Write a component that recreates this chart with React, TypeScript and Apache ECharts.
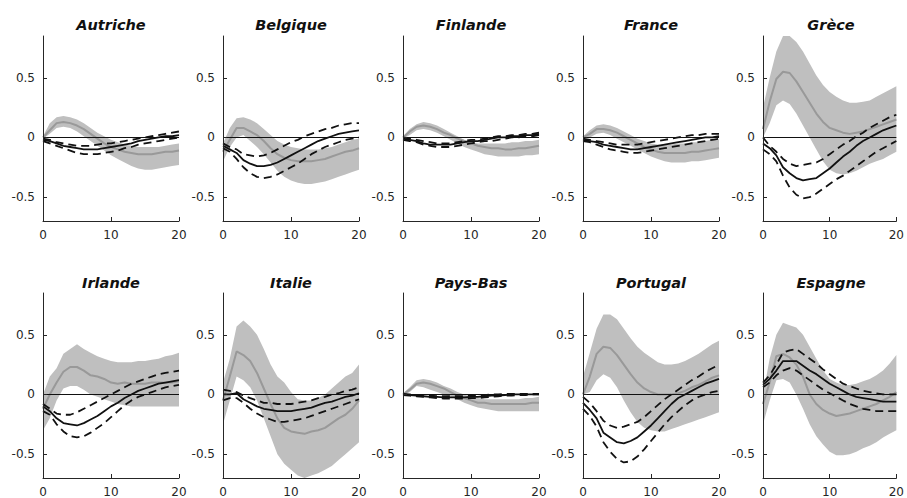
import React, { useEffect, useRef } from "react";
import * as echarts from "echarts";

const countries = ["Autriche", "Belgique", "Finlande", "France", "Grèce", "Irlande", "Italie", "Pays-Bas", "Portugal", "Espagne"];
const horizons = [0, 1, 2, 3, 4, 5, 6, 7, 8, 9, 10, 11, 12, 13, 14, 15, 16, 17, 18, 19, 20];
const yTicks = [-0.5, 0, 0.5];

// Autriche
const autBandUp = [0.01, 0.12, 0.17, 0.18, 0.17, 0.15, 0.12, 0.08, 0.04, 0.01, -0.02, -0.04, -0.06, -0.07, -0.08, -0.08, -0.08, -0.08, -0.07, -0.06, -0.05];
const autBandLo = [-0.01, 0.03, 0.08, 0.09, 0.08, 0.05, 0.01, -0.03, -0.07, -0.11, -0.15, -0.18, -0.21, -0.24, -0.26, -0.27, -0.27, -0.26, -0.25, -0.24, -0.23];
const autMed = [0, 0.06, 0.12, 0.13, 0.12, 0.10, 0.07, 0.03, -0.01, -0.05, -0.08, -0.10, -0.12, -0.13, -0.14, -0.14, -0.14, -0.13, -0.12, -0.12, -0.11];
const autIrf = [-0.02, -0.03, -0.05, -0.07, -0.08, -0.09, -0.10, -0.10, -0.10, -0.09, -0.08, -0.07, -0.06, -0.05, -0.03, -0.02, -0.01, 0.0, 0.01, 0.01, 0.02];
const autIrfUp = [-0.01, -0.02, -0.04, -0.05, -0.06, -0.07, -0.07, -0.07, -0.06, -0.05, -0.05, -0.04, -0.03, -0.02, -0.01, 0.0, 0.01, 0.02, 0.03, 0.04, 0.05];
const autIrfLo = [-0.03, -0.05, -0.07, -0.09, -0.11, -0.13, -0.14, -0.14, -0.14, -0.13, -0.12, -0.11, -0.09, -0.08, -0.06, -0.05, -0.04, -0.03, -0.02, -0.01, 0.0];

// Belgique
const belBandUp = [-0.05, 0.08, 0.16, 0.17, 0.15, 0.12, 0.07, 0.02, -0.03, -0.06, -0.08, -0.09, -0.1, -0.1, -0.1, -0.09, -0.08, -0.06, -0.04, -0.02, -0.01];
const belBandLo = [-0.2, -0.08, 0.0, 0.02, -0.03, -0.08, -0.14, -0.21, -0.28, -0.33, -0.36, -0.38, -0.39, -0.39, -0.38, -0.37, -0.35, -0.33, -0.31, -0.29, -0.27];
const belMed = [-0.12, -0.02, 0.08, 0.08, 0.05, 0.02, -0.03, -0.09, -0.14, -0.17, -0.19, -0.2, -0.2, -0.2, -0.19, -0.18, -0.16, -0.14, -0.12, -0.11, -0.09];
const belIrf = [-0.07, -0.1, -0.13, -0.19, -0.22, -0.24, -0.24, -0.23, -0.21, -0.18, -0.15, -0.12, -0.09, -0.06, -0.03, -0.01, 0.01, 0.03, 0.04, 0.05, 0.06];
const belIrfUp = [-0.05, -0.08, -0.1, -0.14, -0.15, -0.16, -0.15, -0.13, -0.1, -0.07, -0.04, -0.02, 0.01, 0.03, 0.05, 0.07, 0.08, 0.1, 0.11, 0.12, 0.12];
const belIrfLo = [-0.09, -0.12, -0.18, -0.25, -0.3, -0.33, -0.34, -0.33, -0.31, -0.28, -0.25, -0.22, -0.18, -0.14, -0.11, -0.08, -0.06, -0.04, -0.02, -0.01, 0.0];

// Finlande
const finBandUp = [0.01, 0.07, 0.11, 0.13, 0.12, 0.1, 0.07, 0.04, 0.01, -0.02, -0.04, -0.05, -0.05, -0.05, -0.05, -0.05, -0.04, -0.04, -0.03, -0.03, -0.02];
const finBandLo = [-0.01, 0.02, 0.06, 0.07, 0.06, 0.04, 0.01, -0.02, -0.05, -0.08, -0.1, -0.12, -0.14, -0.15, -0.16, -0.16, -0.16, -0.16, -0.15, -0.15, -0.14];
const finMed = [0, 0.05, 0.09, 0.1, 0.09, 0.07, 0.04, 0.02, -0.01, -0.03, -0.05, -0.07, -0.08, -0.09, -0.09, -0.1, -0.1, -0.09, -0.09, -0.08, -0.07];
const finIrf = [-0.01, -0.02, -0.03, -0.05, -0.06, -0.06, -0.06, -0.06, -0.05, -0.04, -0.03, -0.03, -0.02, -0.01, 0.0, 0.0, 0.01, 0.01, 0.02, 0.02, 0.03];
const finIrfUp = [0.0, -0.01, -0.02, -0.03, -0.04, -0.05, -0.05, -0.05, -0.04, -0.03, -0.02, -0.02, -0.01, 0.0, 0.01, 0.01, 0.02, 0.02, 0.03, 0.03, 0.04];
const finIrfLo = [-0.02, -0.03, -0.04, -0.06, -0.07, -0.08, -0.08, -0.08, -0.07, -0.06, -0.05, -0.04, -0.03, -0.03, -0.02, -0.01, 0.0, 0.0, 0.01, 0.01, 0.02];

// France
const fraBandUp = [0.01, 0.06, 0.1, 0.11, 0.1, 0.08, 0.05, 0.02, -0.01, -0.03, -0.05, -0.06, -0.06, -0.06, -0.05, -0.05, -0.04, -0.04, -0.03, -0.02, -0.02];
const fraBandLo = [-0.01, 0.0, 0.03, 0.04, 0.02, -0.01, -0.04, -0.07, -0.1, -0.13, -0.16, -0.18, -0.2, -0.21, -0.21, -0.21, -0.2, -0.2, -0.19, -0.18, -0.17];
const fraMed = [0, 0.03, 0.07, 0.07, 0.06, 0.04, 0.01, -0.02, -0.05, -0.08, -0.1, -0.12, -0.13, -0.13, -0.13, -0.13, -0.12, -0.12, -0.11, -0.1, -0.09];
const fraIrf = [-0.02, -0.03, -0.04, -0.06, -0.07, -0.08, -0.09, -0.1, -0.1, -0.09, -0.08, -0.07, -0.06, -0.05, -0.04, -0.03, -0.02, -0.01, 0.0, 0.0, 0.01];
const fraIrfUp = [-0.01, -0.02, -0.03, -0.04, -0.05, -0.06, -0.06, -0.06, -0.06, -0.05, -0.04, -0.03, -0.02, -0.01, 0.0, 0.01, 0.02, 0.02, 0.03, 0.03, 0.03];
const fraIrfLo = [-0.03, -0.04, -0.06, -0.08, -0.1, -0.11, -0.12, -0.13, -0.13, -0.12, -0.11, -0.1, -0.09, -0.08, -0.07, -0.06, -0.05, -0.04, -0.03, -0.02, -0.01];

// Grèce
const greBandUp = [0.25, 0.5, 0.72, 0.85, 0.85, 0.8, 0.72, 0.62, 0.52, 0.44, 0.38, 0.34, 0.31, 0.29, 0.29, 0.3, 0.31, 0.34, 0.37, 0.4, 0.43];
const greBandLo = [0.0, 0.12, 0.27, 0.31, 0.28, 0.2, 0.1, 0.0, -0.1, -0.2, -0.27, -0.3, -0.31, -0.3, -0.28, -0.25, -0.22, -0.2, -0.18, -0.15, -0.12];
const greMed = [0.07, 0.3, 0.49, 0.55, 0.54, 0.47, 0.38, 0.29, 0.2, 0.13, 0.08, 0.06, 0.04, 0.03, 0.04, 0.05, 0.07, 0.09, 0.11, 0.13, 0.15];
const greIrf = [-0.05, -0.09, -0.15, -0.25, -0.3, -0.34, -0.36, -0.35, -0.34, -0.3, -0.26, -0.21, -0.16, -0.12, -0.07, -0.03, 0.0, 0.03, 0.06, 0.08, 0.1];
const greIrfUp = [0.0, -0.07, -0.12, -0.18, -0.22, -0.24, -0.23, -0.22, -0.21, -0.18, -0.14, -0.1, -0.06, -0.03, 0.01, 0.04, 0.08, 0.11, 0.14, 0.17, 0.19];
const greIrfLo = [-0.1, -0.14, -0.2, -0.32, -0.42, -0.48, -0.51, -0.5, -0.47, -0.43, -0.39, -0.35, -0.32, -0.28, -0.24, -0.2, -0.16, -0.12, -0.09, -0.06, -0.03];

// Irlande
const irlBandUp = [0.0, 0.15, 0.22, 0.34, 0.38, 0.42, 0.38, 0.35, 0.32, 0.3, 0.28, 0.27, 0.27, 0.27, 0.28, 0.28, 0.29, 0.3, 0.32, 0.33, 0.35];
const irlBandLo = [-0.3, -0.2, -0.05, 0.05, 0.07, 0.07, 0.04, 0.0, -0.02, -0.04, -0.06, -0.08, -0.09, -0.1, -0.1, -0.1, -0.1, -0.1, -0.1, -0.1, -0.1];
const irlMed = [-0.12, 0.0, 0.1, 0.19, 0.23, 0.23, 0.2, 0.16, 0.15, 0.13, 0.1, 0.09, 0.1, 0.09, 0.09, 0.09, 0.1, 0.1, 0.1, 0.1, 0.11];
const irlIrf = [-0.1, -0.14, -0.2, -0.24, -0.25, -0.26, -0.24, -0.21, -0.18, -0.14, -0.1, -0.07, -0.03, 0.0, 0.03, 0.05, 0.07, 0.09, 0.1, 0.11, 0.12];
const irlIrfUp = [-0.08, -0.12, -0.16, -0.17, -0.17, -0.15, -0.12, -0.09, -0.06, -0.03, 0.0, 0.03, 0.06, 0.09, 0.11, 0.13, 0.15, 0.17, 0.18, 0.19, 0.2];
const irlIrfLo = [-0.14, -0.17, -0.25, -0.31, -0.35, -0.36, -0.35, -0.32, -0.28, -0.24, -0.19, -0.14, -0.09, -0.05, -0.02, 0.0, 0.02, 0.04, 0.06, 0.07, 0.08];

// Italie
const itaBandUp = [0.1, 0.3, 0.57, 0.62, 0.57, 0.5, 0.38, 0.25, 0.15, 0.1, 0.02, -0.04, -0.05, -0.05, -0.03, 0.0, 0.05, 0.1, 0.15, 0.18, 0.25];
const itaBandLo = [-0.25, -0.05, 0.15, 0.12, 0.06, -0.05, -0.2, -0.35, -0.5, -0.58, -0.63, -0.68, -0.7, -0.68, -0.66, -0.63, -0.6, -0.55, -0.5, -0.45, -0.4];
const itaMed = [-0.05, 0.15, 0.36, 0.33, 0.28, 0.18, 0.05, -0.08, -0.2, -0.28, -0.31, -0.32, -0.33, -0.31, -0.3, -0.28, -0.24, -0.2, -0.17, -0.12, -0.05];
const itaIrf = [0.0, 0.0, 0.01, -0.04, -0.07, -0.1, -0.12, -0.13, -0.14, -0.14, -0.14, -0.13, -0.12, -0.11, -0.09, -0.07, -0.06, -0.04, -0.02, -0.01, 0.01];
const itaIrfUp = [0.04, 0.03, 0.02, -0.01, -0.03, -0.05, -0.07, -0.07, -0.08, -0.08, -0.08, -0.07, -0.06, -0.05, -0.03, -0.02, 0.0, 0.01, 0.03, 0.04, 0.06];
const itaIrfLo = [-0.05, -0.03, -0.03, -0.07, -0.12, -0.16, -0.19, -0.21, -0.23, -0.23, -0.22, -0.21, -0.2, -0.18, -0.16, -0.14, -0.12, -0.1, -0.08, -0.06, -0.04];

// Pays-Bas
const nldBandUp = [0.01, 0.06, 0.12, 0.13, 0.12, 0.1, 0.07, 0.05, 0.02, 0.0, -0.02, -0.03, -0.04, -0.04, -0.04, -0.04, -0.04, -0.04, -0.03, -0.03, -0.02];
const nldBandLo = [-0.01, 0.02, 0.07, 0.06, 0.04, 0.02, 0.0, -0.02, -0.04, -0.07, -0.09, -0.11, -0.12, -0.13, -0.14, -0.14, -0.14, -0.14, -0.14, -0.14, -0.14];
const nldMed = [0, 0.04, 0.09, 0.1, 0.09, 0.07, 0.05, 0.02, -0.01, -0.03, -0.05, -0.07, -0.07, -0.08, -0.08, -0.08, -0.08, -0.08, -0.08, -0.07, -0.07];
const nldIrf = [0, -0.005, -0.01, -0.015, -0.02, -0.02, -0.025, -0.025, -0.025, -0.025, -0.02, -0.02, -0.015, -0.01, -0.01, -0.005, 0, 0, 0, 0, 0];
const nldIrfUp = [0.005, 0, -0.005, -0.01, -0.01, -0.015, -0.015, -0.015, -0.015, -0.015, -0.01, -0.01, -0.005, 0, 0, 0.005, 0.005, 0.005, 0.005, 0.005, 0.005];
const nldIrfLo = [-0.005, -0.01, -0.015, -0.02, -0.025, -0.03, -0.035, -0.035, -0.035, -0.035, -0.03, -0.03, -0.025, -0.02, -0.015, -0.01, -0.01, -0.005, -0.005, 0, 0];

// Portugal
const porBandUp = [0.15, 0.35, 0.55, 0.67, 0.67, 0.63, 0.55, 0.47, 0.4, 0.35, 0.31, 0.27, 0.25, 0.25, 0.26, 0.28, 0.31, 0.34, 0.38, 0.42, 0.45];
const porBandLo = [0.0, 0.02, 0.12, 0.17, 0.14, 0.06, -0.05, -0.15, -0.23, -0.28, -0.3, -0.31, -0.31, -0.29, -0.27, -0.25, -0.23, -0.21, -0.19, -0.17, -0.15];
const porMed = [0.0, 0.15, 0.34, 0.4, 0.39, 0.33, 0.25, 0.17, 0.1, 0.05, 0.02, 0.0, 0.0, 0.0, 0.01, 0.03, 0.06, 0.08, 0.11, 0.14, 0.16];
const porIrf = [-0.07, -0.13, -0.2, -0.32, -0.36, -0.4, -0.41, -0.39, -0.36, -0.31, -0.26, -0.2, -0.14, -0.08, -0.03, 0.0, 0.03, 0.06, 0.09, 0.11, 0.13];
const porIrfUp = [-0.02, -0.07, -0.14, -0.22, -0.26, -0.28, -0.27, -0.25, -0.23, -0.19, -0.14, -0.09, -0.04, 0.0, 0.04, 0.08, 0.12, 0.15, 0.19, 0.22, 0.25];
const porIrfLo = [-0.12, -0.18, -0.27, -0.4, -0.48, -0.54, -0.57, -0.56, -0.52, -0.46, -0.39, -0.32, -0.25, -0.19, -0.14, -0.09, -0.05, -0.02, 0.0, 0.02, 0.03];

// Espagne
const espBandUp = [0.0, 0.3, 0.5, 0.6, 0.58, 0.56, 0.5, 0.4, 0.3, 0.2, 0.13, 0.1, 0.08, 0.08, 0.09, 0.11, 0.13, 0.16, 0.2, 0.26, 0.33];
const espBandLo = [-0.25, -0.05, 0.12, 0.13, 0.1, 0.0, -0.12, -0.25, -0.35, -0.42, -0.48, -0.51, -0.51, -0.5, -0.48, -0.45, -0.43, -0.4, -0.36, -0.33, -0.3];
const espMed = [-0.08, 0.1, 0.32, 0.34, 0.31, 0.25, 0.15, 0.0, -0.08, -0.13, -0.16, -0.18, -0.17, -0.16, -0.14, -0.12, -0.1, -0.08, -0.05, -0.02, 0.02];
const espIrf = [0.08, 0.13, 0.2, 0.28, 0.28, 0.28, 0.24, 0.2, 0.17, 0.13, 0.09, 0.06, 0.03, 0.0, -0.02, -0.03, -0.04, -0.05, -0.06, -0.06, -0.06];
const espIrfUp = [0.1, 0.16, 0.25, 0.35, 0.37, 0.38, 0.34, 0.3, 0.26, 0.21, 0.17, 0.13, 0.09, 0.07, 0.05, 0.03, 0.02, 0.01, 0.0, 0.0, 0.0];
const espIrfLo = [0.06, 0.1, 0.16, 0.2, 0.22, 0.2, 0.16, 0.12, 0.08, 0.04, 0.01, -0.02, -0.05, -0.08, -0.1, -0.12, -0.13, -0.14, -0.14, -0.14, -0.14];

const panels = [
  { up: autBandUp, lo: autBandLo, med: autMed, irf: autIrf, irfUp: autIrfUp, irfLo: autIrfLo },
  { up: belBandUp, lo: belBandLo, med: belMed, irf: belIrf, irfUp: belIrfUp, irfLo: belIrfLo },
  { up: finBandUp, lo: finBandLo, med: finMed, irf: finIrf, irfUp: finIrfUp, irfLo: finIrfLo },
  { up: fraBandUp, lo: fraBandLo, med: fraMed, irf: fraIrf, irfUp: fraIrfUp, irfLo: fraIrfLo },
  { up: greBandUp, lo: greBandLo, med: greMed, irf: greIrf, irfUp: greIrfUp, irfLo: greIrfLo },
  { up: irlBandUp, lo: irlBandLo, med: irlMed, irf: irlIrf, irfUp: irlIrfUp, irfLo: irlIrfLo },
  { up: itaBandUp, lo: itaBandLo, med: itaMed, irf: itaIrf, irfUp: itaIrfUp, irfLo: itaIrfLo },
  { up: nldBandUp, lo: nldBandLo, med: nldMed, irf: nldIrf, irfUp: nldIrfUp, irfLo: nldIrfLo },
  { up: porBandUp, lo: porBandLo, med: porMed, irf: porIrf, irfUp: porIrfUp, irfLo: porIrfLo },
  { up: espBandUp, lo: espBandLo, med: espMed, irf: espIrf, irfUp: espIrfUp, irfLo: espIrfLo },
];

const FONT = "DejaVu Sans";
const AXIS_COLOR = "#262626";

function buildOption() {
  const grid: any[] = [];
  const xAxis: any[] = [];
  const yAxis: any[] = [];
  const series: any[] = [];
  const graphic: any[] = [];

  panels.forEach((p, i) => {
    const col = i % 5;
    const row = Math.floor(i / 5);
    const left = 43 + col * 180;
    const top = row === 0 ? 36 : 293;
    grid.push({ left, top, width: 136, height: 185, containLabel: false });
    xAxis.push({
      type: "value",
      gridIndex: i,
      min: 0,
      max: 20,
      interval: 10,
      axisLine: { onZero: false, lineStyle: { color: AXIS_COLOR, width: 1 } },
      axisTick: { inside: true, length: 4, lineStyle: { color: AXIS_COLOR } },
      axisLabel: { margin: 8, fontSize: 12, fontFamily: FONT, color: AXIS_COLOR },
      splitLine: { show: false },
      z: 5,
    });
    yAxis.push({
      type: "value",
      gridIndex: i,
      min: -0.7,
      max: 0.85,
      axisLine: { show: true, onZero: false, lineStyle: { color: AXIS_COLOR, width: 1 } },
      axisTick: { show: true, inside: true, length: 4, customValues: yTicks, lineStyle: { color: AXIS_COLOR } },
      axisLabel: {
        customValues: yTicks,
        margin: 8,
        fontSize: 12,
        fontFamily: FONT,
        color: AXIS_COLOR,
        formatter: (v: number) => String(v),
      },
      splitLine: { show: false },
      z: 5,
    });
    const pts = (arr: number[]) => horizons.map((h, k) => [h, arr[k]]);
    // confidence band as polygon through the axes' scales
    series.push({
      type: "custom",
      coordinateSystem: "cartesian2d",
      xAxisIndex: i,
      yAxisIndex: i,
      data: [[horizons[0], p.lo[0]]],
      silent: true,
      z: 1,
      renderItem: (params: any, api: any) => {
        const upper = horizons.map((h, k) => api.coord([h, p.up[k]]));
        const lower = horizons.map((h, k) => api.coord([h, p.lo[k]])).reverse();
        return {
          type: "polygon",
          shape: { points: upper.concat(lower) },
          style: { fill: "#bfbfbf", stroke: "none" },
        };
      },
    });
    series.push({
      type: "line",
      xAxisIndex: i,
      yAxisIndex: i,
      data: pts(p.med),
      symbol: "none",
      silent: true,
      lineStyle: { color: "#999999", width: 2 },
      z: 2,
    });
    series.push({
      type: "line",
      xAxisIndex: i,
      yAxisIndex: i,
      data: pts(p.irf),
      symbol: "none",
      silent: true,
      lineStyle: { color: "#111111", width: 1.8 },
      z: 4,
      markLine: {
        silent: true,
        symbol: "none",
        label: { show: false },
        lineStyle: { color: "#111111", width: 1, type: "solid" },
        data: [{ yAxis: 0 }],
        animation: false,
      },
    });
    [p.irfUp, p.irfLo].forEach((arr) => {
      series.push({
        type: "line",
        xAxisIndex: i,
        yAxisIndex: i,
        data: pts(arr),
        symbol: "none",
        silent: true,
        lineStyle: { color: "#111111", width: 1.8, type: [8, 5] },
        z: 4,
      });
    });
    graphic.push({
      type: "text",
      x: left + 68,
      y: row === 0 ? 25 : 283,
      style: {
        text: countries[i],
        fontFamily: FONT,
        fontSize: 14.5,
        fontWeight: "bold",
        fontStyle: "italic",
        fill: "#111111",
        align: "center",
        verticalAlign: "middle",
      },
    });
  });

  return {
    animation: false,
    backgroundColor: "#ffffff",
    grid,
    xAxis,
    yAxis,
    series,
    graphic,
  };
}

export default function App() {
  const ref = useRef<HTMLDivElement>(null);
  useEffect(() => {
    if (!ref.current) return;
    const chart = echarts.init(ref.current, null, { renderer: "svg" });
    chart.setOption(buildOption() as any);
    return () => chart.dispose();
  }, []);
  return (
    <div
      ref={ref}
      style={{ position: "absolute", left: 0, top: 0, width: 907, height: 498, background: "#fff" }}
    />
  );
}
